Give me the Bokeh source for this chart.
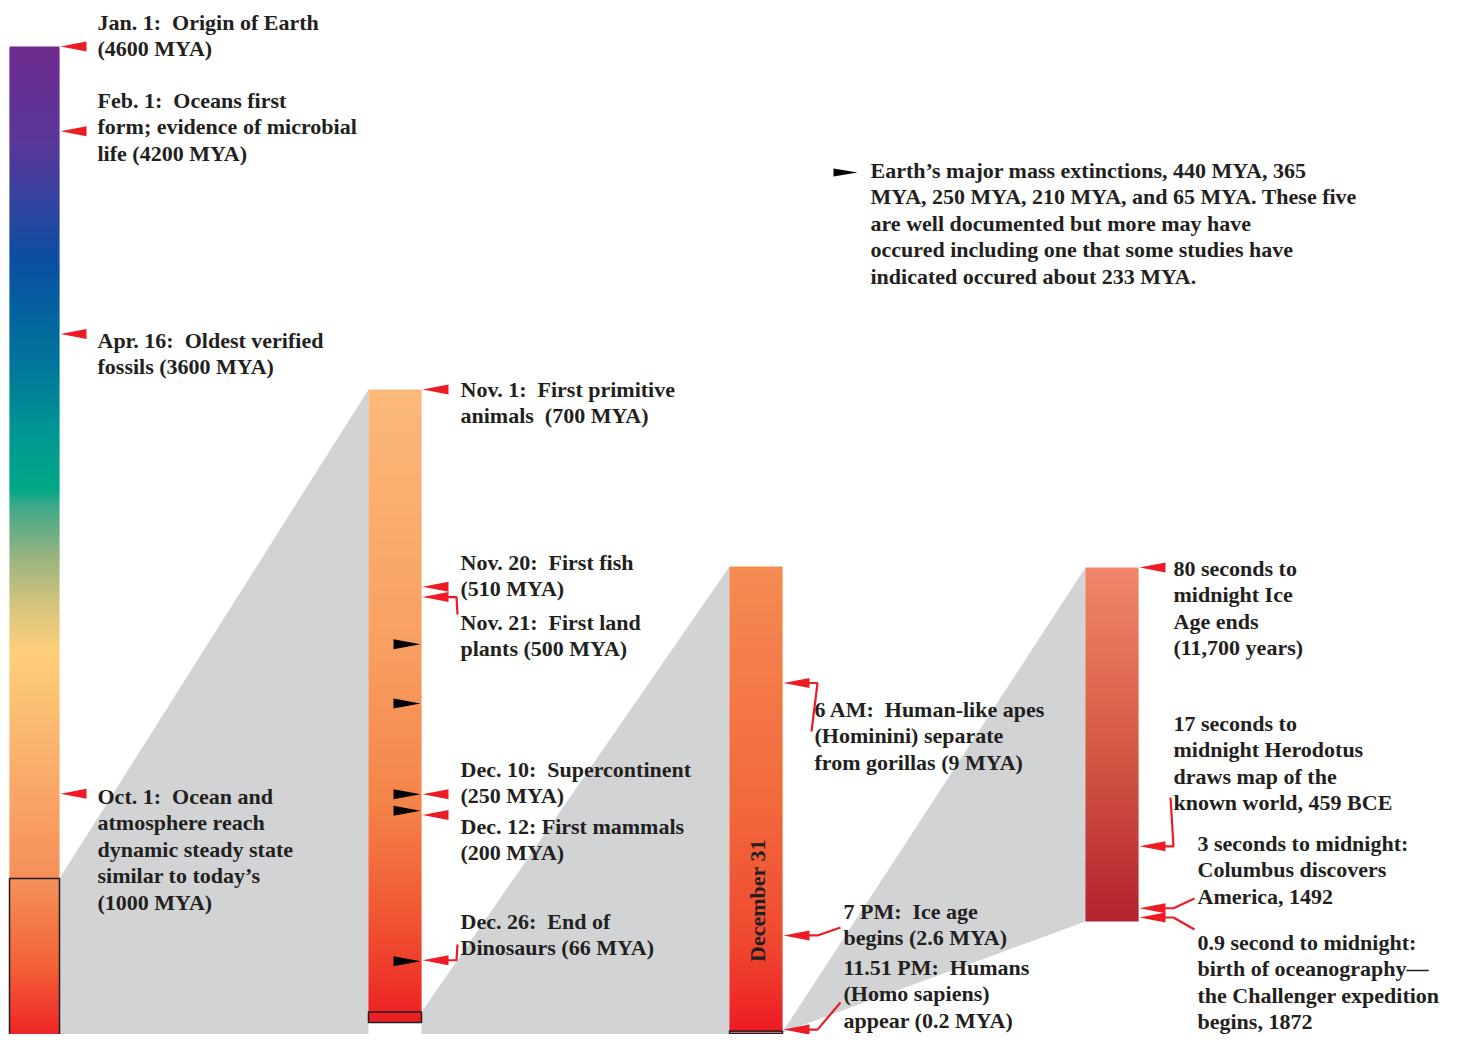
import numpy as np
from bokeh.plotting import figure
from bokeh.models import Range1d, ColumnDataSource
from bokeh.core.properties import value
from bokeh.embed import file_html
from bokeh.resources import INLINE

NB = "\u00a0"  # keeps the double spaces after colons visible

# ------------------------------------------------------------------ data
# Panel 1: the whole "cosmic year" (day of year, 0 = Jan 1)
year_days = [0, 31, 105, 273]
year_labels = [
    "Jan. 1:" + NB + " Origin of Earth\n(4600 MYA)",
    "Feb. 1:" + NB + " Oceans first\nform; evidence of microbial\nlife (4200 MYA)",
    "Apr. 16:" + NB + " Oldest verified\nfossils (3600 MYA)",
    "Oct. 1:" + NB + " Ocean and\natmosphere reach\ndynamic steady state\nsimilar to today\u2019s\n(1000 MYA)",
]
year_length = 365
nov1_day = 304

# Panel 2: Nov 1 - Dec 31 (days after Nov 1)
novdec_days = [0, 19, 20, 39, 41, 55]
novdec_mya = [700, 510, 500, 250, 200, 66]
novdec_labels = [
    "Nov. 1:" + NB + " First primitive\nanimals" + NB + " (700 MYA)",
    "Nov. 20:" + NB + " First fish\n(510 MYA)",
    "Nov. 21:" + NB + " First land\nplants (500 MYA)",
    "Dec. 10:" + NB + " Supercontinent\n(250 MYA)",
    "Dec. 12: First mammals\n(200 MYA)",
    "Dec. 26:" + NB + " End of\nDinosaurs (66 MYA)",
]
novdec_length = 61
dec31_day = 60

extinction_mya = [440, 365, 250, 210, 65]
extinction_text = ("Earth\u2019s major mass extinctions, 440 MYA, 365\n"
                   "MYA, 250 MYA, 210 MYA, and 65 MYA. These five\n"
                   "are well documented but more may have\n"
                   "occured including one that some studies have\n"
                   "indicated occured about 233 MYA.")

# Panel 3: December 31 (hours after midnight)
dec31_hours = [6, 19, 23.85]
dec31_labels = [
    "6 AM:" + NB + " Human-like apes\n(Hominini) separate\nfrom gorillas (9 MYA)",
    "7 PM:" + NB + " Ice age\nbegins (2.6 MYA)",
    "11.51 PM:" + NB + " Humans\n(Homo sapiens)\nappear (0.2 MYA)",
]
dec31_length = 24
dec31_title = "December 31"

# Panel 4: last 80 seconds (seconds to midnight)
final_seconds = [80, 17, 3, 0.9]
final_labels = [
    "80 seconds to\nmidnight Ice\nAge ends\n(11,700 years)",
    "17 seconds to\nmidnight Herodotus\ndraws map of the\nknown world, 459 BCE",
    "3 seconds to midnight:\nColumbus discovers\nAmerica, 1492",
    "0.9 second to midnight:\nbirth of oceanography\u2014\nthe Challenger expedition\nbegins, 1872",
]
final_length = 80

# ------------------------------------------------------------------ layout / style
W, H = 1443, 1034
RED = "#ed1c24"
GRAY = "#d1d3d4"
INK = "#231f20"
FONT = value("Liberation Serif")
FS = "22px"
LH = 1.06

P1 = dict(x=9, w=50, top=46, bottom=1045)
P2 = dict(x=368, w=53, top=389, bottom=1022)
P3 = dict(x=729, w=53, top=566, bottom=1032)
P4 = dict(x=1085, w=53, top=567, bottom=921)

STOPS1 = [(0, "#6f2a8e"), (.104, "#56399a"), (.214, "#0a4fa2"), (.324, "#00789a"),
          (.394, "#009a92"), (.444, "#00a884"), (.459, "#3da78a"), (.514, "#9db57f"),
          (.564, "#d9c67c"), (.605, "#fdcf7b"), (.755, "#f9a466"), (.841, "#f58d58"),
          (.915, "#f26639"), (1, "#ed1c24")]
STOPS2 = [(0, "#fbb97a"), (.4, "#f8a062"), (.65, "#f4844a"), (.82, "#f05a34"),
          (.95, "#ed3127"), (1, "#ed1c24")]
STOPS3 = [(0, "#f58b52"), (.5, "#f26a3c"), (.8, "#ef4a30"), (1, "#ed1c24")]
STOPS4 = [(0, "#f1866a"), (.5, "#d55a45"), (1, "#b3222f")]

# label layouts: (x, top, anchor y for the arrow / leader)
LAY1 = [(97, 9, 46), (97, 87, 122), (97, 327, 336), (97, 783, 793)]
LAY2 = [(460, 376, 389), (460, 549, 590), (460, 609, 614), (460, 756, 795),
        (460, 813, 824), (460, 908, 944)]
LAY3 = [(814, 696, 731), (843, 898, 927), (843, 954, 1002)]
LAY4 = [(1173, 555, 567), (1173, 710, 797), (1197, 830, 898), (1197, 929, 929)]


def lin(panel, t, length, reverse=False):
    f = np.asarray(t, dtype=float) / length
    if reverse:
        f = 1 - f
    return panel["top"] + f * (panel["bottom"] - panel["top"])


def y1(d):
    return lin(P1, d, year_length)


def y2(d):
    return lin(P2, d, novdec_length)


def y3(h):
    return lin(P3, h, dec31_length)


def y4(s):
    return lin(P4, s, final_length, reverse=True)


p = figure(width=W, height=H, x_range=Range1d(0, W), y_range=Range1d(H, 0),
           output_backend="svg", toolbar_location=None, min_border=0)
p.axis.visible = False
p.grid.visible = False
p.outline_line_color = None
p.background_fill_color = "white"


def hex2rgb(h):
    return np.array([int(h[i:i + 2], 16) for i in (1, 3, 5)], dtype=float)


def grad_bar(panel, stops, step=2.0):
    top, bottom = panel["top"], panel["bottom"]
    edges = np.arange(top, bottom, step)
    mids = (edges + step / 2 - top) / (bottom - top)
    fr = [s[0] for s in stops]
    rgb = np.array([hex2rgb(s[1]) for s in stops])
    cols = []
    for m in mids:
        c = [int(round(np.interp(m, fr, rgb[:, k]))) for k in range(3)]
        cols.append("#%02x%02x%02x" % tuple(c))
    bots = np.minimum(edges + step + 0.7, bottom)
    p.quad(left=panel["x"], right=panel["x"] + panel["w"], top=edges, bottom=bots,
           fill_color=cols, line_color=None)


def right(panel):
    return panel["x"] + panel["w"]


last80_start = dec31_length - final_length / 3600.0

# ---- gray wedges (zoom connectors), drawn first; the first two run to the frame bottom
wedge_xs = [
    [right(P1), P2["x"], P2["x"], P2["x"], right(P1)],
    [right(P2), P3["x"], P3["x"], P3["x"], right(P2), right(P2)],
    [right(P3), P4["x"], P4["x"], right(P3)],
]
wedge_ys = [
    [float(y1(nov1_day)), P2["top"], P2["bottom"], H, H],
    [float(y2(dec31_day)), P3["top"], P3["bottom"], H, H, float(y2(novdec_length))],
    [float(y3(last80_start)), P4["top"], P4["bottom"], float(y3(dec31_length))],
]
p.patches(wedge_xs, wedge_ys, fill_color=GRAY, line_color=None)

# ---- gradient bars
grad_bar(P1, STOPS1)
grad_bar(P2, STOPS2)
grad_bar(P3, STOPS3)
grad_bar(P4, STOPS4)

# ---- boxes marking the zoomed part of each bar
box_l = [P1["x"], P2["x"], P3["x"]]
box_r = [right(P1), right(P2), right(P3)]
box_t = [float(y1(nov1_day)), float(y2(dec31_day)), float(y3(last80_start)) - 1]
box_b = [float(y1(year_length)), float(y2(novdec_length)), float(y3(dec31_length)) + 1]
p.quad(left=box_l, right=box_r, top=box_t, bottom=box_b, fill_color=None,
       line_color=INK, line_width=1.5)

# ---- arrows, leaders and labels
AW, AH = 26, 5
arrow_xs, arrow_ys = [], []
lead_xs, lead_ys = [], []
txt_x, txt_y, txt = [], [], []


def add_events(panel, ys, labels, layout):
    tip = right(panel) + 1
    base = tip + AW
    for ya, lab, (lx, lt, ay) in zip(ys, labels, layout):
        ya = float(ya)
        arrow_xs.append([tip, base, base])
        arrow_ys.append([ya, ya - AH, ya + AH])
        if abs(ya - ay) > 10 or lx - base > 20:
            lead_xs.append([base - 2, base + 8, lx - 3])
            lead_ys.append([ya, ya, ay])
        txt_x.append(lx)
        txt_y.append(lt)
        txt.append(lab)


add_events(P1, y1(year_days), year_labels, LAY1)
add_events(P2, y2(novdec_days), novdec_labels, LAY2)
add_events(P3, y3(dec31_hours), dec31_labels, LAY3)
add_events(P4, y4(final_seconds), final_labels, LAY4)

p.multi_line(lead_xs, lead_ys, line_color=RED, line_width=2.2)
p.patches(arrow_xs, arrow_ys, fill_color=RED, line_color=None)

# extinction markers inside panel 2 (MYA -> day via the panel's dated events)
ext_days = np.interp(extinction_mya, [0] + novdec_mya[::-1], [novdec_length] + novdec_days[::-1])
ext_y = y2(ext_days)
etip = right(P2) - 1
ext_xs = [[etip, etip - 27, etip - 27] for _ in ext_y]
ext_ys = [[float(v), float(v) - 5, float(v) + 5] for v in ext_y]
# legend marker
LEG_X, LEG_Y = 833, 172
ext_xs.append([LEG_X + 24, LEG_X, LEG_X])
ext_ys.append([LEG_Y, LEG_Y - 4, LEG_Y + 4])
p.patches(ext_xs, ext_ys, fill_color="black", line_color=None)

txt_x.append(870)
txt_y.append(157)
txt.append(extinction_text)

src = ColumnDataSource(dict(x=txt_x, y=txt_y, text=txt))
p.text(x="x", y="y", text="text", source=src, text_font=FONT, text_font_style="bold",
       text_font_size=FS, text_color=INK, text_baseline="top", text_align="left",
       text_line_height=LH)

# rotated title of panel 3
p.text(x=[P3["x"] + P3["w"] / 2 + 1], y=[900], text=[dec31_title], angle=np.pi / 2,
       text_font=FONT, text_font_style="bold", text_font_size=FS, text_color=INK,
       text_baseline="middle", text_align="center")

open("out.html", "w").write(file_html(p, INLINE))
